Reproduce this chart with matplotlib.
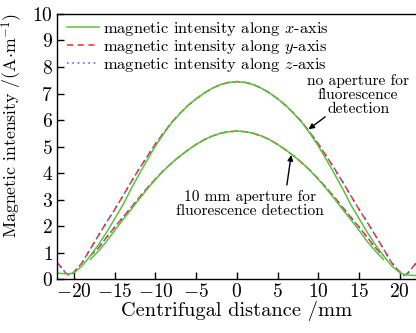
import matplotlib
matplotlib.use("Agg")
import matplotlib.pyplot as plt

plt.rcParams["font.family"] = "serif"
plt.rcParams["font.serif"] = ["cmr10"]
plt.rcParams["mathtext.fontset"] = "cm"
plt.rcParams["axes.formatter.use_mathtext"] = True

# no aperture (outer curve)
x_outer = [-22, -21, -20.5, -20, -19, -18, -17, -16, -15, -14, -13, -12, -11, -10, -9, -8, -7, -6, -5, -4, -3, -2, -1, 0,
           1, 2, 3, 4, 5, 6, 7, 8, 9, 10, 11, 12, 13, 14, 15, 16, 17, 18, 19, 20, 20.5, 21, 22]
outer_y = [0.60, 0.22, 0.13, 0.27, 0.62, 1.14, 1.65, 2.15, 2.63, 3.14, 3.66, 4.16, 4.63, 5.10, 5.52, 5.92, 6.25, 6.55, 6.80, 7.02, 7.20, 7.34, 7.42, 7.45,
           7.42, 7.34, 7.20, 7.02, 6.80, 6.55, 6.25, 5.92, 5.52, 5.10, 4.63, 4.16, 3.66, 3.14, 2.63, 2.15, 1.65, 1.14, 0.62, 0.27, 0.13, 0.22, 0.60]
outer_x = [0.22, 0.20, 0.20, 0.24, 0.50, 0.88, 1.30, 1.77, 2.28, 2.80, 3.40, 3.96, 4.50, 5.02, 5.48, 5.90, 6.24, 6.55, 6.80, 7.02, 7.20, 7.34, 7.42, 7.45,
           7.42, 7.34, 7.20, 7.02, 6.80, 6.55, 6.24, 5.90, 5.48, 5.02, 4.50, 3.96, 3.40, 2.80, 2.28, 1.77, 1.30, 0.88, 0.50, 0.24, 0.18, 0.15, 0.13]
outer_z = outer_y

# 10 mm aperture (inner curve)
x_inner = [-18, -17, -16, -15, -14, -13, -12, -11, -10, -9, -8, -7, -6, -5, -4, -3, -2, -1, 0,
           1, 2, 3, 4, 5, 6, 7, 8, 9, 10, 11, 12, 13, 14, 15, 16, 17, 18]
inner_y = [0.88, 1.18, 1.58, 1.96, 2.33, 2.70, 3.08, 3.44, 3.78, 4.10, 4.38, 4.64, 4.87, 5.08, 5.26, 5.40, 5.50, 5.56, 5.58,
           5.56, 5.50, 5.40, 5.26, 5.08, 4.87, 4.64, 4.38, 4.10, 3.78, 3.44, 3.08, 2.70, 2.33, 1.96, 1.58, 1.18, 0.88]
inner_x = [0.74, 1.06, 1.42, 1.84, 2.24, 2.62, 3.02, 3.40, 3.76, 4.09, 4.38, 4.64, 4.87, 5.08, 5.26, 5.40, 5.50, 5.56, 5.58,
           5.56, 5.50, 5.40, 5.26, 5.08, 4.87, 4.64, 4.38, 4.09, 3.76, 3.40, 3.02, 2.62, 2.24, 1.84, 1.42, 1.06, 0.74]
inner_z = inner_y

x_ticks = [-20, -15, -10, -5, 0, 5, 10, 15, 20]
y_ticks = [0, 1, 2, 3, 4, 5, 6, 7, 8, 9, 10]

GREEN = "#5cc23a"
RED = "#ff2a2a"
BLUE = "#2f5fd8"

fig = plt.figure(figsize=(4.16, 3.33), dpi=100)
ax = fig.add_axes([0.137, 0.162, 0.863, 0.796])

# y (red dashed), z (blue dotted), x (green solid)
ax.plot(x_outer, outer_y, color=RED, ls=(0, (4, 3)), lw=1.1)
ax.plot(x_inner, inner_y, color=RED, ls=(0, (4, 3)), lw=1.1)
ax.plot(x_outer, outer_z, color=BLUE, ls=(4.5, (1, 2.5)), lw=1.1)
ax.plot(x_inner, inner_z, color=BLUE, ls=(4.5, (1, 2.5)), lw=1.1)
ax.plot(x_outer, outer_x, color=GREEN, lw=1.1)
ax.plot(x_inner, inner_x, color=GREEN, lw=1.1)

# legend handles
hx, = ax.plot([], [], color=GREEN, lw=1.1)
hy, = ax.plot([], [], color=RED, ls=(0, (4, 3)), lw=1.1)
hz, = ax.plot([], [], color=BLUE, ls=(0, (1, 2.5)), lw=1.1)
ax.legend([hx, hy, hz],
          ["magnetic intensity along $x$-axis",
           "magnetic intensity along $y$-axis",
           "magnetic intensity along $z$-axis"],
          loc="upper left", bbox_to_anchor=(-0.005, 1.02), frameon=False,
          fontsize=11.8, handlelength=2.0, handletextpad=0.2,
          labelspacing=0.0, borderaxespad=0.3)

ax.text(14.9, 6.95, "no aperture for\nfluorescence\ndetection",
        ha="center", va="center", fontsize=11.2, linespacing=1.0)
ax.annotate("", xy=(8.8, 5.65), xytext=(10.85, 6.12),
            arrowprops=dict(arrowstyle="-|>", color="black", lw=1, shrinkA=0, shrinkB=0,
                            mutation_scale=8))
ax.text(1.6, 2.83, "10 mm aperture for\nfluorescence detection",
        ha="center", va="center", fontsize=11.2, linespacing=1.0)
ax.annotate("", xy=(6.67, 4.68), xytext=(6.14, 3.55),
            arrowprops=dict(arrowstyle="-|>", color="black", lw=1, shrinkA=0, shrinkB=0,
                            mutation_scale=8))

ax.set_xlim(-22.1, 22.0)
ax.set_ylim(0, 10)
ax.set_xticks(x_ticks)
ax.set_yticks(y_ticks)
ax.tick_params(direction="in", labelsize=14, length=5, width=1, pad=3)
ax.spines["right"].set_visible(False)
for s in ["left", "bottom", "top"]:
    ax.spines[s].set_linewidth(1.0)

ax.set_xlabel("Centrifugal distance /mm", fontsize=14.7, labelpad=0)
ax.set_ylabel("Magnetic intensity /(A$\\cdot$m$^{-1}$)", fontsize=12.8)
ax.yaxis.set_label_coords(-0.088, 0.58)

fig.savefig("out.png", dpi=100)
